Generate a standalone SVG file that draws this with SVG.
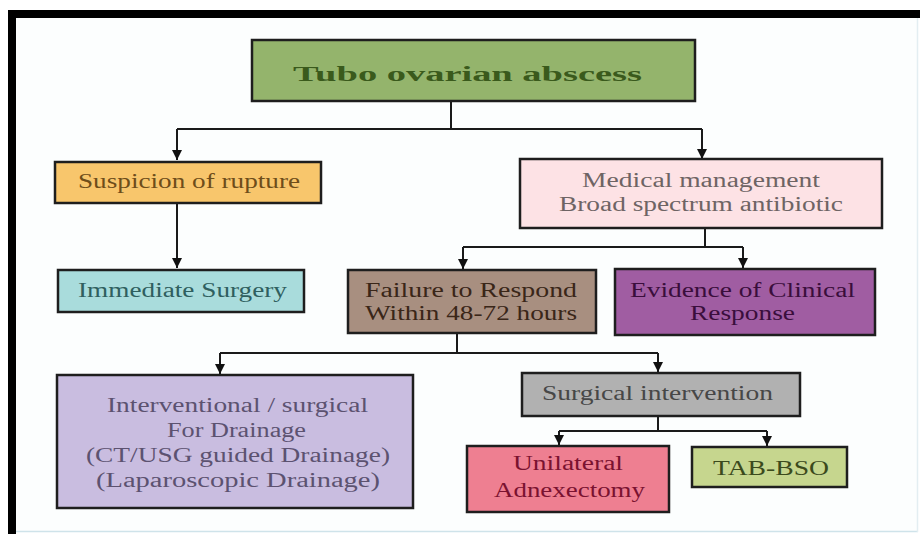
<svg xmlns="http://www.w3.org/2000/svg" width="920" height="534" viewBox="0 0 920 534">
<style>
.box{stroke:#1e1e1e;stroke-width:2.5}
.t{font-family:"Liberation Serif","DejaVu Serif",serif;font-size:20px;text-anchor:middle}
.c{fill:none;stroke:#1a1a1a;stroke-width:2}
</style>
<defs>
<marker id="a" viewBox="0 0 10 10" markerWidth="10" markerHeight="10" refX="10" refY="5" orient="auto" markerUnits="userSpaceOnUse">
<path d="M0,0 L10,5 L0,10 Z" fill="#111"/>
</marker>
</defs>
<rect x="0" y="0" width="920" height="534" fill="#ffffff"/>
<rect x="16" y="18" width="902" height="514" fill="#fcfefe"/>
<rect x="8" y="10" width="912" height="8" fill="#000"/>
<rect x="8" y="10" width="8" height="524" fill="#000"/>
<line x1="16" y1="531.5" x2="918" y2="531.5" stroke="#cfe3ea" stroke-width="1.5"/>
<line x1="917.5" y1="18" x2="917.5" y2="532" stroke="#e3eef2" stroke-width="1.5"/>

<g id="connectors">
<path class="c" d="M451,101 V129 M177,129 H702"/>
<path class="c" d="M177,129 V160" marker-end="url(#a)"/>
<path class="c" d="M702,129 V159" marker-end="url(#a)"/>
<path class="c" d="M177,203 V268" marker-end="url(#a)"/>
<path class="c" d="M705,228 V247 M463,247 H743"/>
<path class="c" d="M463,247 V269" marker-end="url(#a)"/>
<path class="c" d="M743,247 V268" marker-end="url(#a)"/>
<path class="c" d="M457,333 V353 M220,353 H658"/>
<path class="c" d="M220,353 V374" marker-end="url(#a)"/>
<path class="c" d="M658,353 V372" marker-end="url(#a)"/>
<path class="c" d="M658,416 V431 M559,431 H767"/>
<path class="c" d="M559,431 V445" marker-end="url(#a)"/>
<path class="c" d="M767,431 V446" marker-end="url(#a)"/>
</g>

<g id="title">
<rect class="box" x="252" y="40" width="443" height="61" fill="#94b46c"/>
<text class="t" x="467.5" y="81" font-size="33" font-weight="bold" fill="#3a5a1c" textLength="349" lengthAdjust="spacingAndGlyphs">Tubo ovarian abscess</text>
</g>
<g id="suspicion">
<rect class="box" x="55" y="162" width="266" height="41" fill="#f8c66c"/>
<text class="t" x="189" y="188" fill="#6e4d1a" textLength="222" lengthAdjust="spacingAndGlyphs">Suspicion of rupture</text>
</g>
<g id="medical">
<rect class="box" x="520" y="159" width="362" height="69" fill="#fde2e5"/>
<text class="t" x="701" y="187" fill="#6e6464" textLength="238" lengthAdjust="spacingAndGlyphs">Medical management</text>
<text class="t" x="701" y="211" fill="#6e6464" textLength="284" lengthAdjust="spacingAndGlyphs">Broad spectrum antibiotic</text>
</g>
<g id="immediate">
<rect class="box" x="58" y="270" width="246" height="42" fill="#a9dcdc"/>
<text class="t" x="182.5" y="297" fill="#2f5f5f" textLength="209" lengthAdjust="spacingAndGlyphs">Immediate Surgery</text>
</g>
<g id="failure">
<rect class="box" x="348" y="270" width="248" height="63" fill="#a88f80"/>
<text class="t" x="471" y="297" fill="#3a2618" textLength="212" lengthAdjust="spacingAndGlyphs">Failure to Respond</text>
<text class="t" x="471" y="320" fill="#3a2618" textLength="212" lengthAdjust="spacingAndGlyphs">Within 48-72 hours</text>
</g>
<g id="evidence">
<rect class="box" x="615" y="269" width="260" height="66" fill="#a05da2"/>
<text class="t" x="742.5" y="297" fill="#3a0e3c" textLength="225" lengthAdjust="spacingAndGlyphs">Evidence of Clinical</text>
<text class="t" x="742.5" y="320" fill="#3a0e3c" textLength="105" lengthAdjust="spacingAndGlyphs">Response</text>
</g>
<g id="interventional">
<rect class="box" x="57" y="375" width="356" height="133" fill="#c9bde0"/>
<text class="t" x="237.5" y="412" fill="#5c5270" textLength="261" lengthAdjust="spacingAndGlyphs">Interventional / surgical</text>
<text class="t" x="236.5" y="437" fill="#5c5270" textLength="139" lengthAdjust="spacingAndGlyphs">For Drainage</text>
<text class="t" x="238" y="462" fill="#5c5270" textLength="304" lengthAdjust="spacingAndGlyphs">(CT/USG guided Drainage)</text>
<text class="t" x="238" y="487" fill="#5c5270" textLength="284" lengthAdjust="spacingAndGlyphs">(Laparoscopic Drainage)</text>
</g>
<g id="surgical">
<rect class="box" x="522" y="373" width="278" height="43" fill="#b1b1b1"/>
<text class="t" x="657.5" y="400" fill="#474747" textLength="231" lengthAdjust="spacingAndGlyphs">Surgical intervention</text>
</g>
<g id="unilateral">
<rect class="box" x="467" y="446" width="202" height="66" fill="#ee7f91"/>
<text class="t" x="568" y="470" fill="#7a1230" textLength="110" lengthAdjust="spacingAndGlyphs">Unilateral</text>
<text class="t" x="569.5" y="497" fill="#7a1230" textLength="151" lengthAdjust="spacingAndGlyphs">Adnexectomy</text>
</g>
<g id="tabbso">
<rect class="box" x="692" y="447" width="155" height="40" fill="#c6d68e"/>
<text class="t" x="771" y="475" fill="#3b4a1c" textLength="116" lengthAdjust="spacingAndGlyphs">TAB-BSO</text>
</g>
</svg>
